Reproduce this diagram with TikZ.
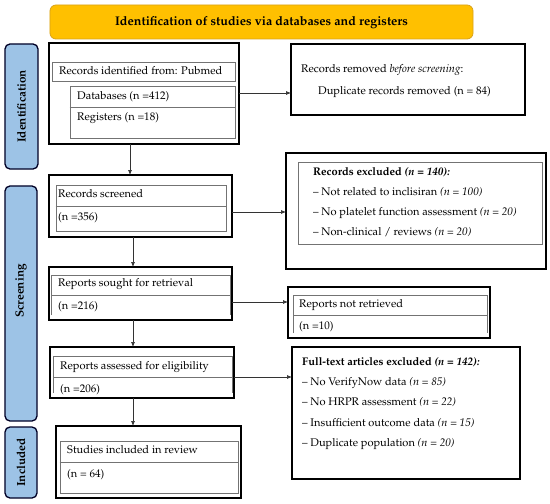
\documentclass[tikz,border=0pt]{standalone}
\usepackage[T1]{fontenc}
\usepackage{mathpazo}
\usetikzlibrary{arrows.meta}
\begin{document}
\begin{tikzpicture}[x=1bp,y=-1bp,
  outer/.style={draw=black,line width=1.4pt,inner sep=0pt,outer sep=0pt},
  inner/.style={draw=black!55,line width=0.7pt},
  phase/.style={draw=black!85!blue,line width=1.3pt,fill=phaseblue,rounded corners=5pt,inner sep=0pt,outer sep=0pt},
  head/.style={draw=headborder,line width=0.8pt,fill=headfill,rounded corners=6pt,inner sep=0pt,outer sep=0pt},
  txt/.style={anchor=mid west,inner sep=0pt,font=\fontsize{11.1}{13}\selectfont},
  ptxt/.style={rotate=90,inner sep=0pt,font=\fontsize{11.8}{13}\bfseries\selectfont},
  arr/.style={-{Latex[length=5pt,width=4pt]},line width=0.7pt,black!80}
]
\definecolor{phaseblue}{HTML}{9DC3E6}
\definecolor{headfill}{HTML}{FFC000}
\definecolor{headborder}{HTML}{D9A21B}
\newcommand\mybox[6]{\node[#6,minimum width={#4bp-#2bp},minimum height={#5bp-#3bp}] (#1) at ({(#2+#4)/2},{(#3+#5)/2}) {};}
\useasboundingbox (0,0) rectangle (550,504);
\fill[white] (0,0) rectangle (550,504);

% header
\mybox{head}{50}{5}{473}{39}{head}
\node[inner sep=0pt,font=\fontsize{12.6}{14}\bfseries\selectfont] (headt) at (261.5,23) {Identification of studies via databases and registers};

% phase labels
\mybox{pid}{5}{44}{38}{169}{phase}
\node[ptxt] (pidt) at (pid.center) {Identification};
\mybox{psc}{5}{186}{37}{421}{phase}
\node[ptxt] (psct) at (21,291) {Screening};
\mybox{pin}{5}{427}{37}{498}{phase}
\node[ptxt] (pint) at (pin.center) {Included};

% identification box
\mybox{idb}{49}{43}{239}{144}{outer}
\mybox{idr}{52}{62}{235}{81}{inner}
\mybox{idsub}{70}{86}{235}{138}{inner}
\draw[inner] (idsub.west |- 0,107) -- (idsub.east |- 0,107);
\node[txt] (t1) at (59,72) {Records identified from: Pubmed};
\node[txt] (t2) at (77,97) {Databases (n =412)};
\node[txt] (t3) at (77,118) {Registers (n =18)};

% removed box
\mybox{rem}{291}{44}{525}{115}{outer}
\node[txt] (t4) at (301,70) {Records removed \textit{before screening}:};
\node[txt] (t5) at (318,92) {Duplicate records removed (n = 84)};

% records screened
\mybox{scr}{49}{175}{232}{237}{outer}
\mybox{scri}{56}{185}{226}{231}{inner}
\draw[inner] (scri.west |- 0,206) -- (scri.east |- 0,206);
\node[txt] (t6) at (58,195) {Records screened};
\node[txt] (t7) at (58,218) {(n =356)};

% records excluded
\mybox{exc}{286}{153}{546}{269}{outer}
\mybox{exci}{298}{162}{542}{244}{inner}
\node[txt] (t8) at (313,173) {\textbf{Records excluded \textit{(n = 140):}}};
\node[txt] (t9) at (313,193) {-- Not related to inclisiran \textit{(n = 100)}};
\node[txt] (t10) at (313,213) {-- No platelet function assessment \textit{(n = 20)}};
\node[txt] (t11) at (313,233) {-- Non-clinical / reviews \textit{(n = 20)}};

% reports sought
\mybox{sou}{49}{267}{232}{320}{outer}
\draw[inner] (51,315) -- (51,275) -- (230,275) -- (230,315);
\draw[inner] (51,295) -- (230,295);
\node[txt] (t12) at (58,284) {Reports sought for retrieval};
\node[txt] (t13) at (58,307) {(n =216)};

% not retrieved
\mybox{ret}{288}{287}{490}{338}{outer}
\draw[inner] (293,333) -- (293,295) -- (487,295) -- (487,333);
\draw[inner] (293,315) -- (487,315);
\node[txt] (t14) at (299,305) {Reports not retrieved};
\node[txt] (t15) at (299,327) {(n =10)};

% assessed
\mybox{ass}{50}{347}{234}{398}{outer}
\draw[inner] (53,393) -- (53,356) -- (232,356) -- (232,393);
\draw[inner] (53,377) -- (232,377);
\node[txt] (t16) at (60,367) {Reports assessed for eligibility};
\node[txt] (t17) at (60,390) {(n =206)};

% full text excluded
\mybox{ful}{292}{347}{520}{479}{outer}
\node[txt] (t18) at (302,363) {\textbf{Full-text articles excluded \textit{(n = 142):}}};
\node[txt] (t19) at (302,383) {-- No VerifyNow data \textit{(n = 85)}};
\node[txt] (t20) at (302,403) {-- No HRPR assessment \textit{(n = 22)}};
\node[txt] (t21) at (302,424) {-- Insufficient outcome data \textit{(n = 15)}};
\node[txt] (t22) at (302,444) {-- Duplicate population \textit{(n = 20)}};

% included
\mybox{inc}{56}{426}{241}{498}{outer}
\mybox{inci}{60}{441}{238}{493}{inner}
\draw[inner] (inci.west |- 0,462) -- (inci.east |- 0,462);
\node[txt] (t23) at (67,451) {Studies included in review};
\node[txt] (t24) at (67,475) {(n = 64)};

% connectors
\draw[arr] (idb.south -| 130,0) -- (scr.north -| 130,0);
\draw[arr] (scr.south -| 133,0) -- (sou.north -| 133,0);
\draw[arr] (sou.south -| 133,0) -- (ass.north -| 133,0);
\draw[arr] (ass.south -| 133,0) -- (inc.north -| 133,0);
\draw[arr] (idb.east |- 0,93) -- (rem.west |- 0,93);
\draw[arr] (scr.east |- 0,212) -- (exc.west |- 0,212);
\draw[arr] (sou.east |- 0,302) -- (ret.west |- 0,302);
\draw[arr] (ass.east |- 0,377) -- (ful.west |- 0,377);
\end{tikzpicture}
\end{document}
